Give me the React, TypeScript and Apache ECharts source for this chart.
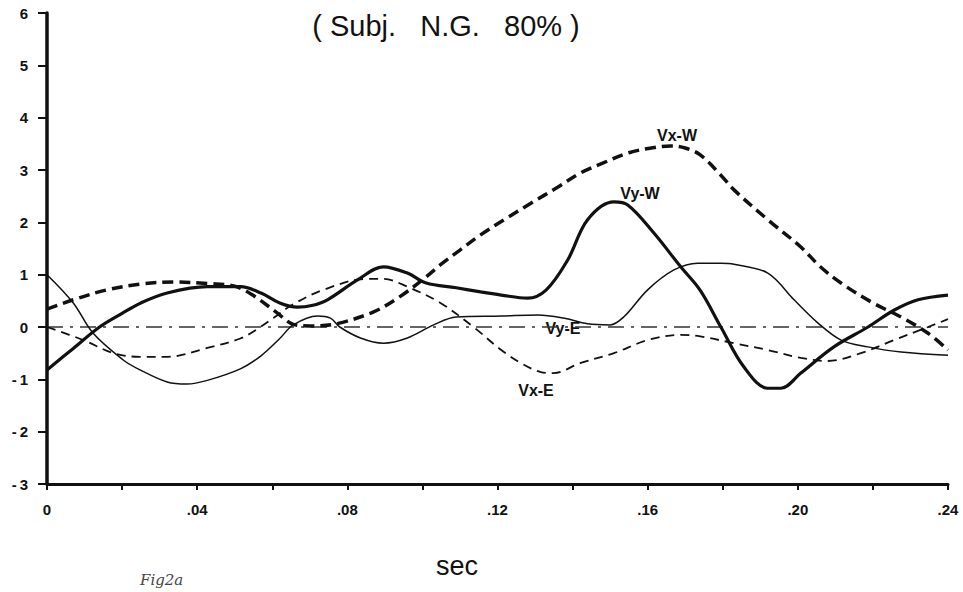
import React, { useEffect, useRef } from "react";
import * as echarts from "echarts";

const title = "(\u00a0Subj.\u00a0\u00a0\u00a0N.G.\u00a0\u00a0\u00a080%\u00a0)";
const xAxisName = "sec";
const figNote = "Fig2a";
const seriesNames = ["Vx-W", "Vy-W", "Vx-E", "Vy-E"];

const vxW: [number, number][] = [
  [0, 0.34], [0.007, 0.52], [0.016, 0.71], [0.025, 0.82], [0.034, 0.86], [0.043, 0.83],
  [0.05, 0.78], [0.055, 0.6], [0.0613, 0.27], [0.0656, 0.05], [0.07, 0.02], [0.077, 0.06],
  [0.087, 0.29], [0.094, 0.58], [0.1, 0.9], [0.105, 1.2], [0.11, 1.47], [0.1155, 1.76],
  [0.122, 2.06], [0.129, 2.37], [0.136, 2.67], [0.142, 2.94], [0.148, 3.13], [0.155, 3.33],
  [0.161, 3.42], [0.166, 3.46], [0.17, 3.42], [0.174, 3.29], [0.1795, 2.9], [0.183, 2.62],
  [0.192, 2.05], [0.2008, 1.53], [0.206, 1.15], [0.2115, 0.84], [0.22, 0.46], [0.2275, 0.19],
  [0.2347, -0.12], [0.24, -0.44],
];

const vyW: [number, number][] = [
  [0, -0.82], [0.007, -0.41], [0.014, 0], [0.02, 0.26], [0.025, 0.46], [0.032, 0.65],
  [0.0427, 0.77], [0.0515, 0.77], [0.057, 0.65], [0.062, 0.46], [0.0667, 0.38], [0.0705, 0.41],
  [0.0747, 0.52], [0.0827, 0.9], [0.0896, 1.15], [0.096, 1.03], [0.101, 0.84], [0.109, 0.75],
  [0.1155, 0.67], [0.121, 0.61], [0.128, 0.55], [0.133, 0.71], [0.1387, 1.28], [0.144, 2.05],
  [0.151, 2.39], [0.1547, 2.33], [0.1616, 1.8], [0.1688, 1.15], [0.174, 0.7], [0.1795, 0.0],
  [0.1856, -0.76], [0.192, -1.17], [0.1955, -1.17], [0.2008, -0.88], [0.2096, -0.38],
  [0.2187, 0], [0.2256, 0.32], [0.232, 0.52], [0.24, 0.61],
];

const vxE: [number, number][] = [
  [0, 0], [0.0097, -0.25], [0.0177, -0.5], [0.0248, -0.57], [0.032, -0.57], [0.0427, -0.4],
  [0.0515, -0.22], [0.056, -0.04], [0.0605, 0.18], [0.065, 0.41], [0.0736, 0.71], [0.0853, 0.92],
  [0.0896, 0.92], [0.096, 0.77], [0.1048, 0.46], [0.1136, 0.0], [0.121, -0.44], [0.1265, -0.7],
  [0.1315, -0.86], [0.135, -0.88], [0.142, -0.69], [0.151, -0.5], [0.16, -0.25], [0.1688, -0.15],
  [0.174, -0.18], [0.183, -0.31], [0.192, -0.44], [0.2008, -0.59], [0.208, -0.65], [0.2168, -0.5],
  [0.2256, -0.25], [0.2347, 0], [0.24, 0.15],
];

const vyE: [number, number][] = [
  [0, 1.0], [0.007, 0.46], [0.0123, -0.12], [0.0203, -0.63], [0.0248, -0.82], [0.032, -1.05],
  [0.0373, -1.09], [0.0427, -1.02], [0.0515, -0.8], [0.057, -0.55], [0.062, -0.22], [0.0656, 0.04],
  [0.072, 0.21], [0.0755, 0.17], [0.078, 0], [0.0835, -0.21], [0.0896, -0.31], [0.096, -0.21],
  [0.103, 0.04], [0.109, 0.19], [0.121, 0.21], [0.1307, 0.23], [0.1376, 0.17], [0.144, 0.06],
  [0.15, 0.04], [0.1536, 0.19], [0.16, 0.71], [0.167, 1.09], [0.1733, 1.22], [0.1795, 1.22],
  [0.183, 1.2], [0.192, 1.03], [0.199, 0.52], [0.2053, 0.08], [0.2115, -0.25], [0.2187, -0.38],
  [0.2275, -0.48], [0.24, -0.54],
];

const zeroLine: [number, number][] = [[0, 0], [0.24, 0]];

const yMin = -3;
const yMax = 6;
const xMin = 0;
const xMax = 0.24;

const FONT = "'Liberation Sans', Arial, Helvetica, sans-serif";
const INK = "#111";

export default function App() {
  const ref = useRef<HTMLDivElement>(null);
  useEffect(() => {
    document.body.style.margin = "0";
    if (!ref.current) return;
    const chart = echarts.init(ref.current, undefined, { renderer: "svg" });
    const lineSeries = (name: string, data: [number, number][], width: number, type: any) => ({
      name,
      type: "line",
      data,
      smooth: 0.35,
      symbol: "none",
      showSymbol: false,
      lineStyle: { color: INK, width, type },
      z: 3,
    });
    chart.setOption({
      animation: false,
      backgroundColor: "#fff",
      grid: { left: 47, right: 15, top: 13, bottom: 108, containLabel: false },
      xAxis: {
        type: "value",
        min: xMin,
        max: xMax,
        interval: 0.02,
        axisLine: { show: true, onZero: false, lineStyle: { color: INK, width: 3 } },
        axisTick: { show: true, length: 6, lineStyle: { color: INK, width: 2 } },
        splitLine: { show: false },
        axisLabel: {
          margin: 18,
          color: INK,
          fontFamily: FONT,
          fontWeight: "bold",
          fontSize: 15,
          showMaxLabel: true,
          showMinLabel: true,
          formatter: (v: number) => {
            const h = Math.round(v * 100);
            if (h % 4 !== 0) return "";
            if (h === 0) return "0";
            return "." + String(h).padStart(2, "0");
          },
        },
      },
      yAxis: {
        type: "value",
        min: yMin,
        max: yMax,
        interval: 1,
        axisLine: { show: true, onZero: false, lineStyle: { color: INK, width: 3.5 } },
        axisTick: { show: true, length: 9, lineStyle: { color: INK, width: 2 } },
        splitLine: { show: false },
        axisLabel: {
          margin: 19,
          color: INK,
          fontFamily: FONT,
          fontWeight: "bold",
          fontSize: 15,
          formatter: (v: number) => (v < 0 ? "-\u2009" + Math.abs(v) : String(v)),
        },
      },
      series: [
        {
          name: "zero",
          type: "line",
          data: zeroLine,
          symbol: "none",
          lineStyle: { color: "#333", width: 1.3, type: [16, 7, 3, 7] },
          z: 2,
        },
        lineSeries(seriesNames[0], vxW, 3.5, [11, 6]),
        lineSeries(seriesNames[1], vyW, 3.2, "solid"),
        lineSeries(seriesNames[2], vxE, 1.8, [9, 6]),
        lineSeries(seriesNames[3], vyE, 1.5, "solid"),
      ],
      graphic: [
        {
          type: "text",
          x: 446,
          y: 26,
          style: { text: title, font: `29px ${FONT}`, fill: INK, textAlign: "center", textVerticalAlign: "middle" },
        },
        {
          type: "text",
          x: 457,
          y: 566,
          style: { text: xAxisName, font: `27px ${FONT}`, fill: INK, textAlign: "center", textVerticalAlign: "middle" },
        },
        {
          type: "text",
          x: 140,
          y: 580,
          style: { text: figNote, font: `italic 15px 'DejaVu Serif', serif`, fill: "#444", textAlign: "left", textVerticalAlign: "middle" },
        },
        {
          type: "text",
          x: 677,
          y: 135,
          style: { text: seriesNames[0], font: `bold 16px ${FONT}`, fill: INK, textAlign: "center", textVerticalAlign: "middle" },
        },
        {
          type: "text",
          x: 640,
          y: 193,
          style: { text: seriesNames[1], font: `bold 16px ${FONT}`, fill: INK, textAlign: "center", textVerticalAlign: "middle" },
        },
        {
          type: "text",
          x: 536,
          y: 390,
          style: { text: seriesNames[2], font: `bold 16px ${FONT}`, fill: INK, textAlign: "center", textVerticalAlign: "middle" },
        },
        {
          type: "text",
          x: 563,
          y: 328,
          style: { text: seriesNames[3], font: `bold 16px ${FONT}`, fill: INK, textAlign: "center", textVerticalAlign: "middle" },
        },
      ],
    });
    return () => chart.dispose();
  }, []);
  return <div ref={ref} style={{ width: 963, height: 592, position: "absolute", left: 0, top: 0 }} />;
}
